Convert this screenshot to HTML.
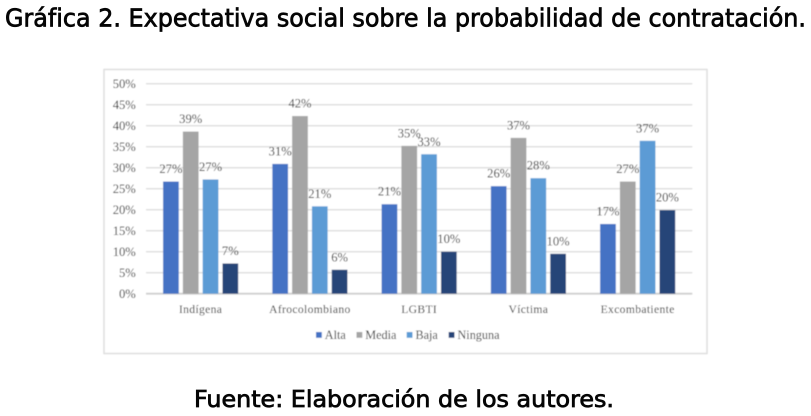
<!DOCTYPE html>
<html lang="es">
<head>
<meta charset="utf-8">
<title>Gráfica 2</title>
<style>
html,body{margin:0;padding:0;background:#fff;width:811px;height:416px;overflow:hidden}
svg{display:block;position:absolute;left:0;top:0}
.h{font-family:"DejaVu Sans","Liberation Sans",sans-serif;font-weight:400;fill:#050505;stroke:#050505;stroke-width:.75px}
.c{font-family:"Liberation Serif",serif;font-size:12.6px;fill:#2f2f2f}
</style>
</head>
<body>
<svg id="page" width="811" height="416" viewBox="0 0 811 416" xmlns="http://www.w3.org/2000/svg">
  <defs><filter id="soft" x="-2%" y="-2%" width="104%" height="104%"><feGaussianBlur stdDeviation="0.4"/></filter></defs>
  <text class="h" x="5" y="26.5" font-size="25" textLength="801" lengthAdjust="spacingAndGlyphs">Gráfica 2. Expectativa social sobre la probabilidad de contratación.</text>
  <g id="chart" filter="url(#soft)">
    <rect x="104" y="69.5" width="603" height="284" fill="#fff" stroke="#dedede" stroke-width="1.5"/>
    <g id="grid"></g>
    <g id="yaxis"></g>
    <g id="bars"></g>
    <g id="labels"></g>
    <g id="xaxis"></g>
    <g id="legend"></g>
  </g>
  <text class="h" x="194" y="407" font-size="23" textLength="420" lengthAdjust="spacingAndGlyphs">Fuente: Elaboración de los autores.</text>
</svg>
<script>
const categories = ['Indígena', 'Afrocolombiano', 'LGBTI', 'Víctima', 'Excombatiente'];
const seriesNames = ['Alta', 'Media', 'Baja', 'Ninguna'];
const alta = [26.7, 30.9, 21.3, 25.6, 16.6];
const media = [38.6, 42.3, 35.2, 37.1, 26.7];
const baja = [27.2, 20.8, 33.2, 27.5, 36.4];
const ninguna = [7.2, 5.7, 10.0, 9.5, 19.9];
const altaLabels = ['27%', '31%', '21%', '26%', '17%'];
const mediaLabels = ['39%', '42%', '35%', '37%', '27%'];
const bajaLabels = ['27%', '21%', '33%', '28%', '37%'];
const ningunaLabels = ['7%', '6%', '10%', '10%', '20%'];
const yTicks = [0, 5, 10, 15, 20, 25, 30, 35, 40, 45, 50];

const seriesValues = [alta, media, baja, ninguna];
const seriesLabels = [altaLabels, mediaLabels, bajaLabels, ningunaLabels];
const seriesColors = ['#4472c4', '#a5a5a5', '#5b9bd5', '#264478'];

const NS = 'http://www.w3.org/2000/svg';
const plotLeft = 146, plotRight = 692.3, plotTop = 83.7, plotBottom = 293.7, yMax = 50;
const groupW = (plotRight - plotLeft) / categories.length;
const barW = 15.7, barStep = 19.8;

function yScale(v) { return plotBottom - (v / yMax) * (plotBottom - plotTop); }
function groupCenter(i) { return plotLeft + groupW * (i + 0.5); }
function barCenter(i, s) { return groupCenter(i) + (s - (seriesValues.length - 1) / 2) * barStep; }
function make(tag, attrs, text) {
  const el = document.createElementNS(NS, tag);
  for (const k in attrs) el.setAttribute(k, attrs[k]);
  if (text !== undefined) el.textContent = text;
  return el;
}

const grid = document.getElementById('grid');
const yaxis = document.getElementById('yaxis');
yTicks.forEach(function (t) {
  const line = make('line', {x1: plotLeft, x2: plotRight, y1: yScale(t), y2: yScale(t), stroke: t === 0 ? '#cfcfcf' : '#e0e0e0', 'stroke-width': t === 0 ? 1.8 : 1.5});
  
  
  grid.appendChild(line);
  const label = make('text', {class: 'c', x: 135.8, y: yScale(t) + 4.2, 'text-anchor': 'end'}, t + '%');
  
  
  yaxis.appendChild(label);
});

const bars = document.getElementById('bars');
const labels = document.getElementById('labels');
seriesValues.forEach(function (vals, s) {
  vals.forEach(function (v, i) {
    const top = yScale(v);
    const bar = make('rect', {x: barCenter(i, s) - barW / 2, y: top, width: barW, height: plotBottom - top, fill: seriesColors[s]});
    
    
    bars.appendChild(bar);
    const lab = make('text', {class: 'c', x: barCenter(i, s), y: top - 8.5, 'text-anchor': 'middle'}, seriesLabels[s][i]);
    
    
    labels.appendChild(lab);
  });
});

const xaxis = document.getElementById('xaxis');
categories.forEach(function (c, i) {
  const t = make('text', {class: 'c', x: groupCenter(i), y: 313, 'text-anchor': 'middle', style: 'font-size:11.6px;letter-spacing:.35px'}, c);
  
  
  xaxis.appendChild(t);
});

const legend = document.getElementById('legend');
const legendSwatchX = [316, 356.5, 406.7, 448.7];
seriesNames.forEach(function (n, s) {
  const sw = make('rect', {x: legendSwatchX[s], y: 332, width: 5.8, height: 5.8, fill: seriesColors[s]});
  
  
  legend.appendChild(sw);
  const t = make('text', {class: 'c', x: legendSwatchX[s] + 8.8, y: 339, style: 'font-size:12.2px'}, n);
  
  
  legend.appendChild(t);
});
</script>
</body>
</html>
